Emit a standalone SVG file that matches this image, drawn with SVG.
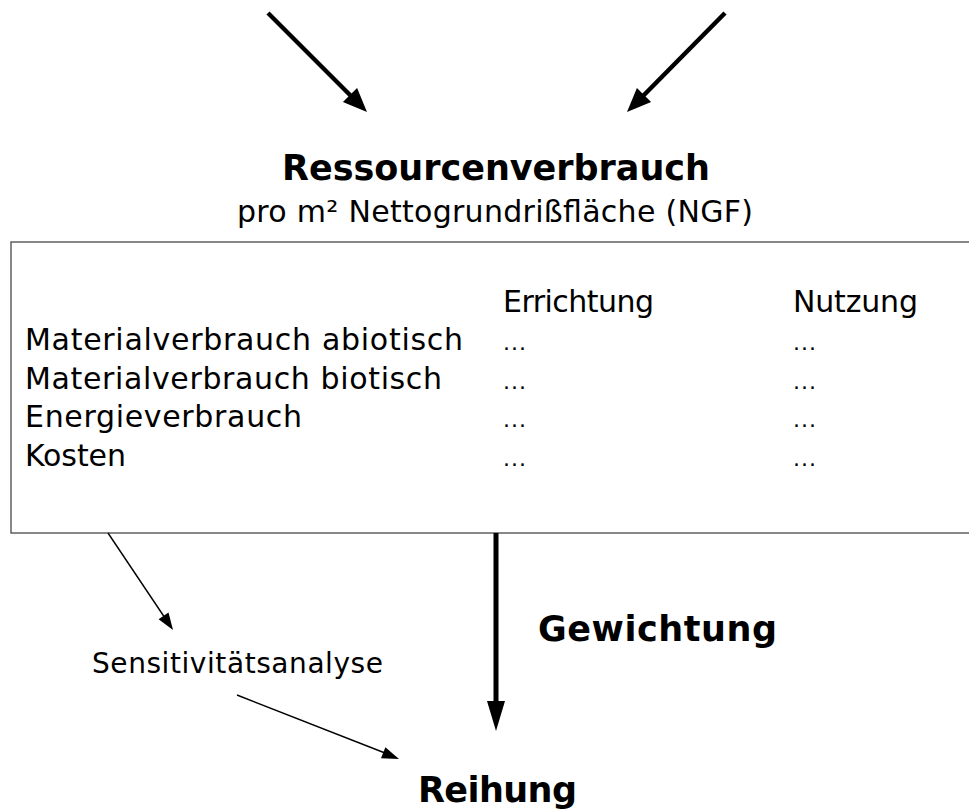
<svg xmlns="http://www.w3.org/2000/svg" width="969" height="812" viewBox="0 0 969 812">
<style>
text{font-family:"DejaVu Sans","Liberation Sans",sans-serif;fill:#000}
.r{font-size:30px}
.d{font-size:22px}
.b{font-weight:bold;font-size:35px}
.s{font-size:28px}
.sub{font-size:30px}
.thick{stroke:#000;stroke-width:4.5;fill:none}
.vert{stroke:#000;stroke-width:5;fill:none}
.thin{stroke:#000;stroke-width:1.4;fill:none}
.head{fill:#000;stroke:none}
</style>
<rect width="969" height="812" fill="#fff"/>
<g id="title">
<text class="b" x="282" y="180" textLength="428">Ressourcenverbrauch</text>
<text class="sub" x="237" y="222" textLength="516">pro m² Nettogrundrißfläche (NGF)</text>
</g>
<g id="table">
<rect x="11" y="242" width="980" height="291" fill="none" stroke="#555" stroke-width="1.4"/>
<text class="r" x="503" y="312" textLength="151">Errichtung</text>
<text class="r" x="793" y="312" textLength="125">Nutzung</text>
<text class="r" x="25" y="350" textLength="438">Materialverbrauch abiotisch</text>
<text class="r" x="25" y="389" textLength="417">Materialverbrauch biotisch</text>
<text class="r" x="25" y="427" textLength="277">Energieverbrauch</text>
<text class="r" x="25" y="466" textLength="101">Kosten</text>
<text class="d" x="503" y="350" textLength="23">...</text>
<text class="d" x="503" y="389" textLength="23">...</text>
<text class="d" x="503" y="427" textLength="23">...</text>
<text class="d" x="503" y="466" textLength="23">...</text>
<text class="d" x="793" y="350" textLength="23">...</text>
<text class="d" x="793" y="389" textLength="23">...</text>
<text class="d" x="793" y="427" textLength="23">...</text>
<text class="d" x="793" y="466" textLength="23">...</text>
</g>
<g id="sensitivitaet">
<text class="s" x="92" y="673" textLength="291">Sensitivitätsanalyse</text>
</g>
<g id="gewichtung">
<text class="b" x="538" y="641" textLength="239">Gewichtung</text>
</g>
<g id="reihung">
<text class="b" x="418" y="802" textLength="159">Reihung</text>
</g>
<g id="connectors">
<line class="thick" x1="268" y1="13" x2="352" y2="97"/>
<polygon class="head" points="367,112 342.9,102.1 357.1,87.9"/>
<line class="thick" x1="725" y1="13" x2="642" y2="97"/>
<polygon class="head" points="627,112 651.1,102.1 636.9,87.9"/>
<line class="vert" x1="496" y1="533" x2="496" y2="705"/>
<polygon class="head" points="487,701 505,701 496,731"/>
<line class="thin" x1="108" y1="533" x2="165" y2="618"/>
<polygon class="head" points="173,630 158.6,619.2 168.5,612.5"/>
<line class="thin" x1="237" y1="695" x2="385" y2="753"/>
<polygon class="head" points="399,759 381,758.3 385.4,747.2"/>
</g>
</svg>
